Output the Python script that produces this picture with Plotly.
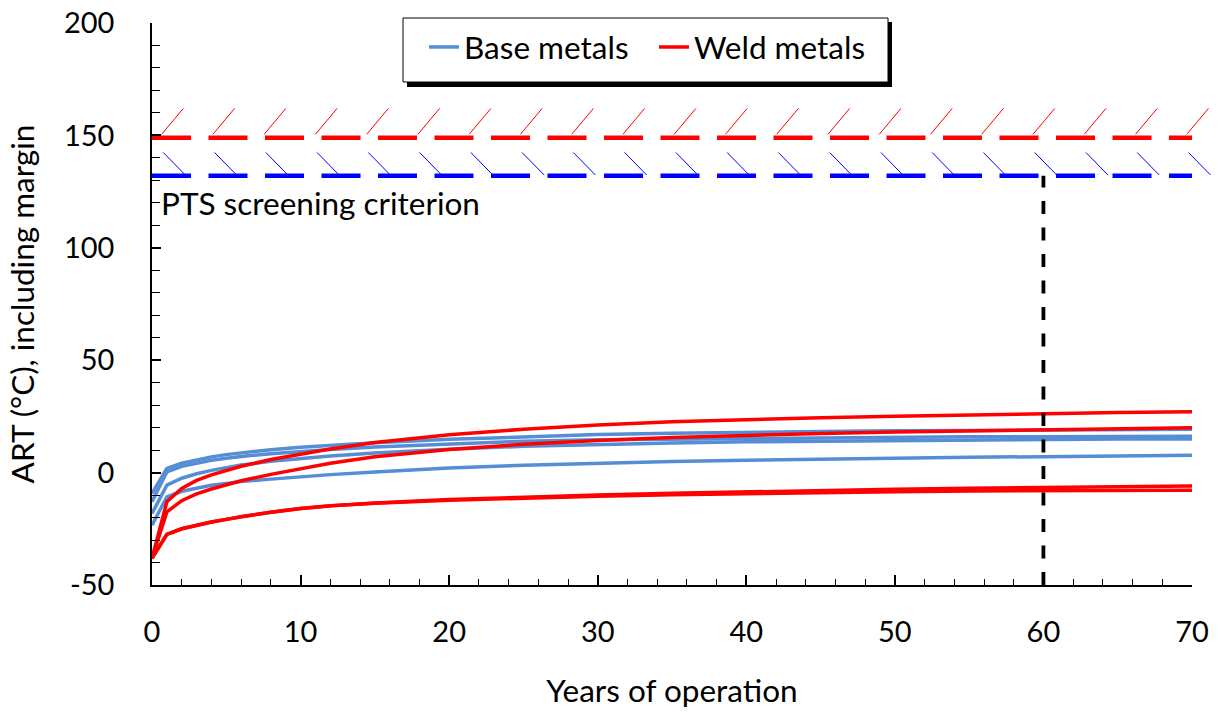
import plotly.graph_objects as go

# ---------------- data ----------------
YEARS = [0, 1, 2, 3, 4, 5, 6, 8, 10, 12, 15, 20, 25, 30, 35, 40, 45, 50, 55, 60, 65, 70]

BASE_1 = [-9.3, 1.8, 4.2, 5.8, 7.0, 8.0, 8.8, 10.2, 11.3, 12.2, 13.3, 14.8, 16.0, 16.9, 17.5, 18.0, 18.3, 18.6, 18.8, 19.0, 19.2, 19.3]
BASE_2 = [-13.0, 0.3, 2.8, 4.3, 5.5, 6.4, 7.2, 8.4, 9.4, 10.3, 11.4, 12.8, 14.0, 14.6, 14.9, 15.2, 15.5, 15.7, 15.9, 16.0, 16.1, 16.2]
BASE_3 = [-18.2, -5.6, -2.5, -0.5, 1.0, 2.3, 3.4, 5.0, 6.3, 7.4, 8.7, 10.4, 11.7, 12.6, 13.2, 13.7, 14.0, 14.3, 14.5, 14.7, 14.9, 15.0]
BASE_4 = [-23.4, -10.8, -8.3, -6.8, -5.6, -4.8, -4.0, -2.9, -1.8, -0.9, 0.3, 2.0, 3.3, 4.2, 4.9, 5.5, 6.0, 6.4, 6.8, 7.1, 7.4, 7.7]

WELD_1 = [-38.1, -13.0, -7.0, -3.5, -1.0, 1.0, 2.8, 5.8, 8.2, 10.5, 13.4, 16.8, 19.3, 21.2, 22.6, 23.6, 24.4, 25.1, 25.7, 26.2, 26.7, 27.1]
WELD_2 = [-38.1, -17.5, -12.5, -9.5, -7.3, -5.3, -3.6, -0.8, 1.8, 4.2, 7.0, 10.3, 12.6, 14.3, 15.6, 16.6, 17.4, 18.1, 18.6, 19.1, 19.5, 19.9]
WELD_3 = [-38.1, -27.5, -25.0, -23.3, -22.0, -20.8, -19.6, -17.6, -16.0, -14.8, -13.5, -12.0, -10.9, -10.0, -9.2, -8.5, -7.9, -7.4, -7.0, -6.6, -6.3, -6.0]
WELD_4 = [-38.1, -27.5, -25.0, -23.3, -22.0, -20.8, -19.6, -17.6, -16.0, -14.8, -13.6, -12.3, -11.3, -10.5, -9.8, -9.3, -8.9, -8.5, -8.2, -8.0, -7.9, -7.8]

BASE_SERIES = [BASE_1, BASE_2, BASE_3, BASE_4]
WELD_SERIES = [WELD_1, WELD_2, WELD_3, WELD_4]

PTS_WELD = 149      # screening criterion, welds
PTS_BASE = 132      # screening criterion, plates
LICENSE_YEAR = 60
X_RANGE = [0, 70]
Y_RANGE = [-50, 200]

X_TICKS = [0, 10, 20, 30, 40, 50, 60, 70]
Y_TICKS = [-50, 0, 50, 100, 150, 200]
Y_TICK_TEXT = ["-50", "0", "50", "100", "150", "200"]

SERIES_NAMES = ["Base metals", "Weld metals"]
X_TITLE = "Years of operation"
Y_TITLE = "ART (°C), including margin"
PTS_LABEL = "PTS screening criterion"

# ---------------- style ----------------
FONT = "Lato"
FS = 31.5
FS_TICK = 29
BLUE = "#558ED5"
RED = "#FF0000"

fig = go.Figure()

for i, s in enumerate(BASE_SERIES):
    fig.add_trace(go.Scatter(x=YEARS, y=s, mode="lines", name=SERIES_NAMES[0],
                             legendgroup="base", showlegend=(i == 0),
                             line=dict(color=BLUE, width=3.5)))
for i, s in enumerate(WELD_SERIES):
    fig.add_trace(go.Scatter(x=YEARS, y=s, mode="lines", name=SERIES_NAMES[1],
                             legendgroup="weld", showlegend=(i == 0),
                             line=dict(color=RED, width=3.5)))

# screening criterion lines
fig.add_trace(go.Scatter(x=X_RANGE, y=[PTS_WELD, PTS_WELD], mode="lines", showlegend=False,
                         line=dict(color="#FF0000", width=4.5, dash="39px,17.5px"), hoverinfo="skip"))
fig.add_trace(go.Scatter(x=X_RANGE, y=[PTS_BASE, PTS_BASE], mode="lines", showlegend=False,
                         line=dict(color="#0000FF", width=4.5, dash="39px,17.5px"), hoverinfo="skip"))
# licence year line
fig.add_trace(go.Scatter(x=[LICENSE_YEAR, LICENSE_YEAR], y=[Y_RANGE[0], PTS_BASE], mode="lines",
                         showlegend=False, line=dict(color="black", width=3.8, dash="13px,13.5px"),
                         hoverinfo="skip"))

# hatch marks (in paper coords so the last one may overhang the axis end)
xspan = X_RANGE[1] - X_RANGE[0]
yspan = Y_RANGE[1] - Y_RANGE[0]
def px_(xv):
    return (xv - X_RANGE[0]) / xspan
def py_(yv):
    return (yv - Y_RANGE[0]) / yspan

shapes = []
for k in range(21):
    x0 = 0.65 + 3.45 * k
    shapes.append(dict(type="line", xref="paper", yref="paper",
                       x0=px_(x0), y0=py_(150.5), x1=px_(x0 + 1.46), y1=py_(162.0),
                       line=dict(color="#FF0000", width=1)))
    xb = 0.76 + 3.45 * k
    shapes.append(dict(type="line", xref="paper", yref="paper",
                       x0=px_(xb), y0=py_(142.4), x1=px_(xb + 1.48), y1=py_(132.4),
                       line=dict(color="#0000FF", width=1)))

# legend box with drop shadow (pixel -> paper for plot area 152..1192 x 23..585)
L, R, T, B = 152, 1192, 23, 585
def fx(p):
    return (p - L) / (R - L)
def fy(p):
    return (B - p) / (B - T)
shapes.append(dict(type="rect", xref="paper", yref="paper", x0=fx(407), x1=fx(892), y0=fy(87), y1=fy(22),
                   fillcolor="black", line=dict(width=0), layer="above"))
shapes.append(dict(type="rect", xref="paper", yref="paper", x0=fx(403), x1=fx(888), y0=fy(82), y1=fy(18),
                   fillcolor="white", line=dict(color="black", width=1), layer="above"))

fig.update_layout(
    width=1226, height=713,
    margin=dict(l=L, r=1226 - R, t=T, b=713 - B),
    paper_bgcolor="white", plot_bgcolor="white",
    font=dict(family=FONT, size=FS, color="black"),
    shapes=shapes,
    showlegend=True,
    legend=dict(orientation="h", x=fx(424), y=fy(20), xanchor="left", yanchor="top",
                bgcolor="rgba(0,0,0,0)", borderwidth=0, entrywidth=185,
                font=dict(family=FONT, size=FS, color="black")),
    annotations=[dict(text=PTS_LABEL, x=0.5, y=120, xref="x", yref="y",
                      xanchor="left", yanchor="middle", showarrow=False,
                      font=dict(family=FONT, size=FS, color="black"))],
)

fig.update_xaxes(range=X_RANGE, tickmode="array", tickvals=X_TICKS, ticks="inside", ticklen=10,
                 tickwidth=1.5, tickcolor="black", showline=True, linecolor="black", linewidth=1.5,
                 showgrid=False, zeroline=False, ticklabelstandoff=20, automargin=False,
                 tickfont=dict(family=FONT, size=FS_TICK),
                 minor=dict(dtick=2, tick0=0, ticks="inside", ticklen=6, tickwidth=1.2,
                            tickcolor="black", showgrid=False),
                 title=dict(text=X_TITLE, standoff=33, font=dict(family=FONT, size=FS)))
fig.update_yaxes(range=Y_RANGE, tickmode="array", tickvals=Y_TICKS, ticktext=Y_TICK_TEXT,
                 ticks="inside", ticklen=9, tickwidth=1.5,
                 tickcolor="black", showline=True, linecolor="black", linewidth=1.5,
                 showgrid=False, zeroline=False, ticklabelstandoff=30, automargin=False,
                 tickfont=dict(family=FONT, size=FS_TICK),
                 minor=dict(dtick=10, tick0=0, ticks="inside", ticklen=8, tickwidth=1.2,
                            tickcolor="black", showgrid=False),
                 title=dict(text=Y_TITLE, standoff=20, font=dict(family=FONT, size=FS)))

fig.write_html("out.html")
